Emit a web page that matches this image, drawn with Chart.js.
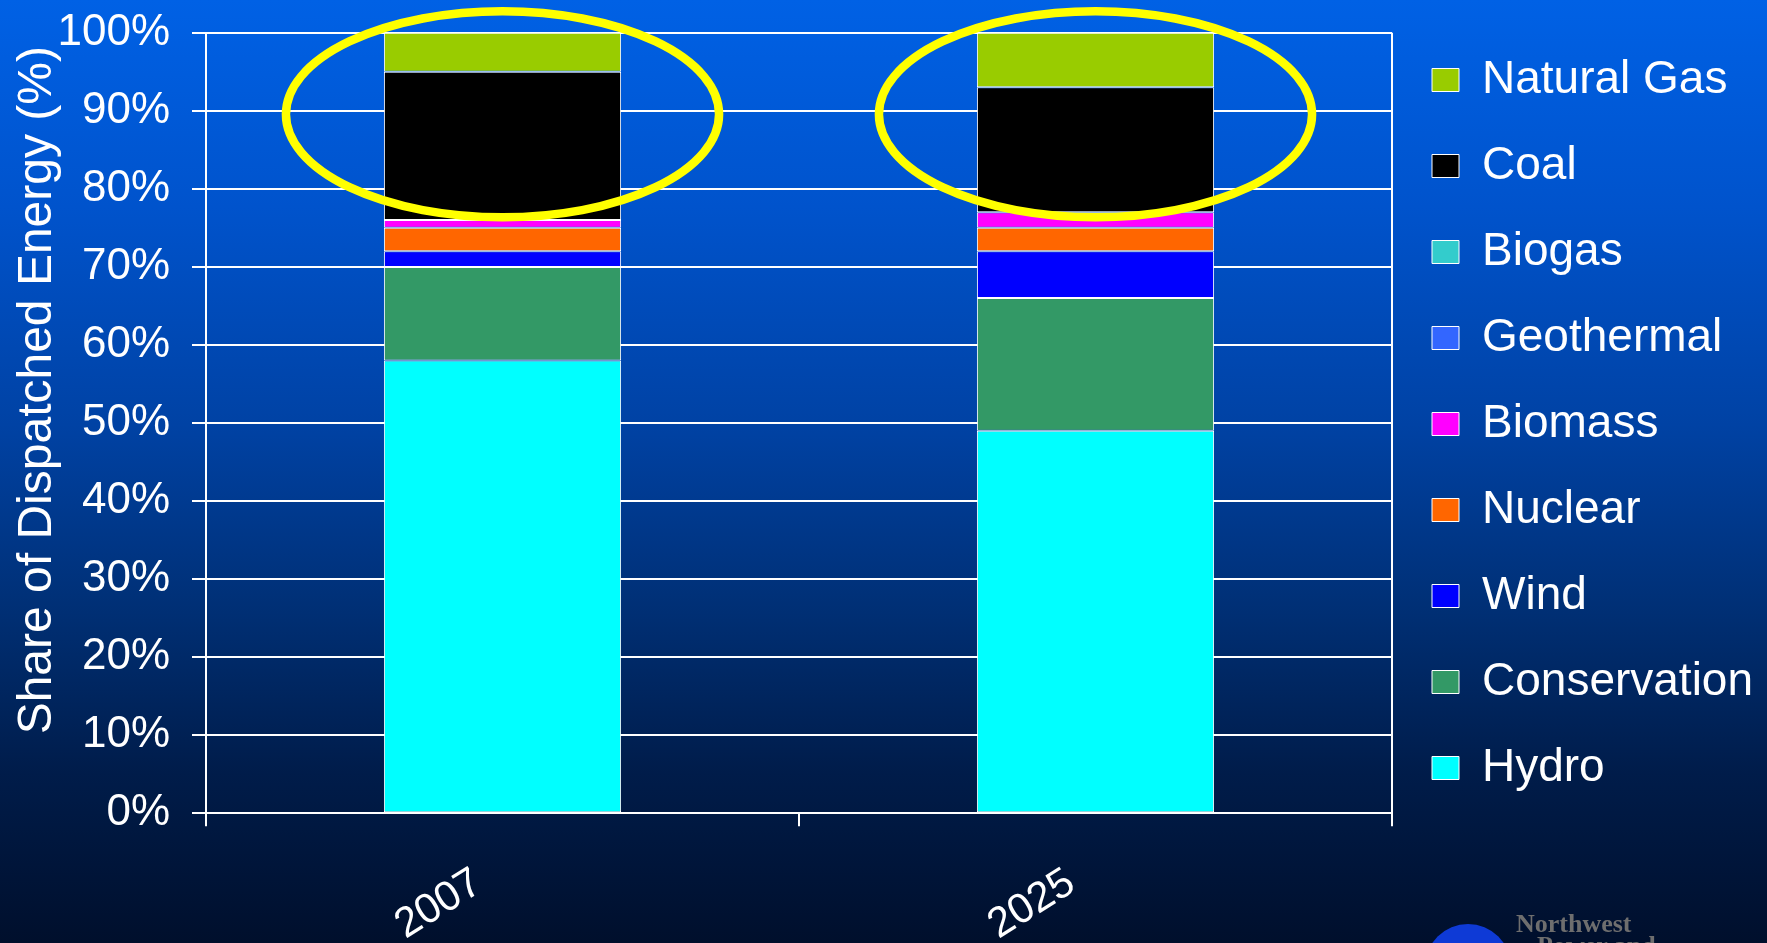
<!DOCTYPE html>
<html>
<head>
<meta charset="utf-8">
<title>Share of Dispatched Energy</title>
<script src="https://cdn.jsdelivr.net/npm/chart.js@4.4.1/dist/chart.umd.min.js"></script>
<style>
  html, body { margin: 0; padding: 0; }
  body {
    width: 1767px; height: 943px; overflow: hidden; position: relative;
    background: linear-gradient(to bottom, #0061e5 0%, #0053cc 22%, #0042a4 45%, #002f74 65%, #001c4a 82%, #000f2c 100%);
  }
  #wrap { position: absolute; left: 0; top: 0; width: 1767px; height: 943px; }
  .globe {
    position: absolute; left: 1425px; top: 924px; width: 86px; height: 86px;
    border-radius: 50%; background: #0e3ad6;
  }
  .logo {
    position: absolute; font-family: "Liberation Serif", "Times New Roman", serif;
    font-weight: bold; font-size: 26px; line-height: 22px; color: #6e6e6e; white-space: nowrap;
  }
</style>
</head>
<body>
<div id="wrap"><canvas id="energyChart"></canvas></div>
<div class="globe"></div>
<div class="logo" style="left:1516px; top:913px;">Northwest</div>
<div class="logo" style="left:1537px; top:935px;">Power and</div>
<script>
// categories
const categories = ['2007', '2025'];

// share of dispatched energy (%), bottom to top of each stack
const hydro        = [58, 49];
const conservation = [12, 17];
const wind         = [2, 6];
const nuclear      = [3, 3];
const biomass      = [1, 2];
const geothermal   = [0, 0];
const biogas       = [0, 0];
const coal         = [19, 16];
const naturalGas   = [5, 7];

const seriesNames  = ['Hydro', 'Conservation', 'Wind', 'Nuclear', 'Biomass', 'Geothermal', 'Biogas', 'Coal', 'Natural Gas'];
const seriesValues = [hydro, conservation, wind, nuclear, biomass, geothermal, biogas, coal, naturalGas];
const seriesColors = ['#00ffff', '#339966', '#0000ff', '#ff6600', '#ff00ff', '#3366ff', '#33cccc', '#000000', '#99cc00'];

// y axis ticks
const yTicks = [0, 10, 20, 30, 40, 50, 60, 70, 80, 90, 100];

// yellow highlight rings around the fossil part of each bar (in % units)
const ringCenter = 89.55;
const ringHalfHeight = 13.2;

Chart.defaults.font.family = '"Liberation Sans", Arial, sans-serif';
Chart.defaults.color = '#ffffff';

const datasets = seriesNames.map((name, i) => ({
    label: name,
    data: seriesValues[i],
    backgroundColor: seriesColors[i],
    borderColor: '#ffffff',
    borderWidth: 1,
    borderSkipped: false,
    barPercentage: 0.4,
    categoryPercentage: 1.0
}));

//rings plugin
const highlightRings = {
    id: 'highlightRings',
    afterDatasetsDraw(chart) {
        const {ctx, scales: {x, y}} = chart;
        const meta = chart.getDatasetMeta(0);
        ctx.save();
        ctx.strokeStyle = '#ffff00';
        ctx.lineWidth = 8.5;
        categories.forEach((c, i) => {
            const cx = x.getPixelForValue(i);
            const cy = y.getPixelForValue(ringCenter);
            const ry = y.getPixelForValue(ringCenter - ringHalfHeight) - cy;
            const rx = meta.data[i].width * 0.913;
            ctx.beginPath();
            ctx.ellipse(cx, cy, rx, ry, 0, 0, Math.PI * 2);
            ctx.stroke();
        });
        ctx.restore();
    }
};

//config
const config = {
    type: 'bar',
    data: {
        labels: categories,
        datasets: datasets
    },
    options: {
        responsive: true,
        maintainAspectRatio: false,
        animation: false,
        layout: {
            padding: { top: 17, right: 5, bottom: 0, left: 0 }
        },
        plugins: {
            tooltip: { enabled: false },
            legend: {
                position: 'right',
                align: 'start',
                reverse: true,
                maxWidth: 370,
                labels: {
                    color: '#ffffff',
                    font: { size: 46 },
                    boxWidth: 27,
                    boxHeight: 23,
                    padding: 40
                }
            }
        },
        scales: {
            x: {
                stacked: true,
                offset: true,
                grid: {
                    offset: true,
                    drawOnChartArea: true,
                    color: (c) => c.index === undefined ? '#ffffff' : 'rgba(0,0,0,0)',
                    lineWidth: 2,
                    tickColor: '#ffffff',
                    tickLength: 13
                },
                border: { color: '#ffffff', width: 2 },
                ticks: {
                    color: '#ffffff',
                    font: { size: 42 },
                    minRotation: 32,
                    maxRotation: 32,
                    padding: 32,
                    labelOffset: -24
                },
                afterFit(scale) {
                    scale.height = 129.7;
                }
            },
            y: {
                stacked: true,
                min: 0,
                max: 100,
                afterBuildTicks(scale) {
                    scale.ticks = yTicks.map(v => ({ value: v }));
                },
                grid: {
                    color: '#ffffff',
                    lineWidth: 2,
                    tickLength: 14
                },
                border: { color: '#ffffff', width: 2 },
                ticks: {
                    color: '#ffffff',
                    font: { size: 44 },
                    padding: 22,
                    callback: (v) => v + '%'
                },
                title: {
                    display: true,
                    text: 'Share of Dispatched Energy (%) ',
                    align: 'end',
                    color: '#ffffff',
                    font: { size: 48 },
                    padding: { top: 9, bottom: 0 }
                },
                afterFit(scale) {
                    scale.width = 206;
                    scale.paddingTop = 32.7;
                }
            }
        }
    },
    plugins: [highlightRings]
};

//rendering
const energyChart = new Chart(document.getElementById('energyChart'), config);
</script>
</body>
</html>
